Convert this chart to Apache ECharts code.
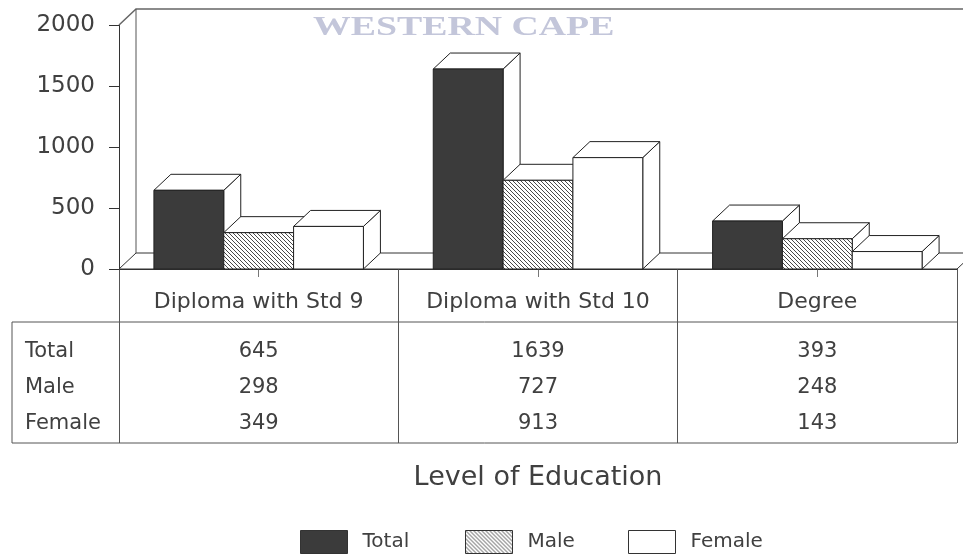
<!DOCTYPE html>
<html>
<head>
<meta charset="utf-8">
<script src="https://cdn.jsdelivr.net/npm/echarts@6/dist/echarts.min.js"></script>
<style>
  html, body { margin: 0; padding: 0; background: #fff; }
  #chart { width: 963px; height: 558px; }
</style>
</head>
<body>
<div id="chart"></div>
<script>
// ---- data ----
const categories = ['Diploma with Std 9', 'Diploma with Std 10', 'Degree'];
const seriesNames = ['Total', 'Male', 'Female'];
const totalValues = [645, 1639, 393];
const maleValues = [298, 727, 248];
const femaleValues = [349, 913, 143];
const yTicks = [0, 500, 1000, 1500, 2000];
const axisTitle = 'Level of Education';
const watermarkText = 'WESTERN CAPE';

const valueRows = [totalValues, maleValues, femaleValues];

// ---- layout & style ----
const W = 963, H = 558;
const GRID = { left: 119, right: 6, top: 25, bottom: 289 };
const AXIS_Y = H - GRID.bottom;          // baseline of the plot / top of the table
const RIGHT_X = W - GRID.right;
const DX = 17, DY = -16;                  // depth offset of the 3D faces
const BAR_FRACTION = 0.25;                // bar width as a share of one category
const FONT = '"DejaVu Sans", sans-serif';
const TEXT = '#404040';
const LINE = '#333';
const TABLE_HEADER_H = 53;                // header row (category names)
const TABLE_H = 174;                      // full table height below the axis
const ROW_OFFSETS = [83, 119, 155];       // row centres below the axis

function hatchPattern() {
  const c = document.createElement('canvas');
  c.width = 4; c.height = 4;
  const g = c.getContext('2d');
  g.fillStyle = '#fff';
  g.fillRect(0, 0, 4, 4);
  g.strokeStyle = '#4a4a4a';
  g.lineWidth = 1;
  g.beginPath();
  g.moveTo(-1, -1); g.lineTo(5, 5);
  g.moveTo(-1, 3); g.lineTo(1, 5);
  g.moveTo(3, -1); g.lineTo(5, 1);
  g.stroke();
  return c;
}
const fills = ['#3b3b3b', { image: hatchPattern(), repeat: 'repeat' }, '#ffffff'];

// 3D box bars: side face, top face, then front face
function barSeries(k) {
  return {
    type: 'custom',
    name: seriesNames[k],
    coordinateSystem: 'cartesian2d',
    xAxisIndex: 0,
    yAxisIndex: 0,
    z: 3,
    data: categories.map((c, i) => [i, valueRows[k][i]]),
    encode: { x: 0, y: 1 },
    renderItem: function (params, api) {
      const i = api.value(0), v = api.value(1);
      const base = api.coord([i, 0]);
      const top = api.coord([i, v]);
      const bw = api.size([1, 0])[0] * BAR_FRACTION;
      const x0 = base[0] + (k - 1.5) * bw, x1 = x0 + bw;
      const yt = top[1], yb = base[1];
      const stroke = { stroke: '#222', lineWidth: 1 };
      return {
        type: 'group',
        children: [
          { type: 'polygon', shape: { points: [[x1, yt], [x1 + DX, yt + DY], [x1 + DX, yb + DY], [x1, yb]] },
            style: Object.assign({ fill: '#fff' }, stroke) },
          { type: 'polygon', shape: { points: [[x0, yt], [x0 + DX, yt + DY], [x1 + DX, yt + DY], [x1, yt]] },
            style: Object.assign({ fill: '#fff' }, stroke) },
          { type: 'rect', shape: { x: x0, y: yt, width: bw, height: yb - yt },
            style: Object.assign({ fill: fills[k] }, stroke) }
        ]
      };
    }
  };
}

// floor slab and back/left walls of the plot box
const frameSeries = {
  type: 'custom',
  name: 'frame',
  coordinateSystem: 'cartesian2d',
  silent: true,
  z: 1,
  data: [[0, 0]],
  renderItem: function (params) {
    const cs = params.coordSys;
    const L = cs.x, R = cs.x + cs.width, T = cs.y, B = cs.y + cs.height;
    return {
      type: 'group',
      children: [
        { type: 'polygon', shape: { points: [[L, B], [L + DX, B + DY], [R + DX, B + DY], [R, B]] },
          style: { fill: '#fff', stroke: LINE, lineWidth: 1 } },
        { type: 'polyline', shape: { points: [[L, T], [L + DX, T + DY], [R + DX + 20, T + DY]] },
          style: { fill: null, stroke: '#666', lineWidth: 1.5 } },
        { type: 'line', shape: { x1: L + DX, y1: T + DY, x2: L + DX, y2: B + DY },
          style: { stroke: '#555', lineWidth: 1 } }
      ]
    };
  }
};

// table row axes: each one prints one series' values under the categories
function valueAxis(k) {
  return {
    type: 'category',
    data: categories,
    position: 'bottom',
    gridIndex: 0,
    axisLine: { show: false, onZero: false },
    axisTick: { show: k === 0, alignWithLabel: true, length: 8, lineStyle: { color: '#777' } },
    axisLabel: {
      margin: ROW_OFFSETS[k] - 11,
      interval: 0,
      fontFamily: FONT, fontSize: 21, color: TEXT,
      formatter: (v, idx) => String(valueRows[k][idx])
    }
  };
}

const chart = echarts.init(document.getElementById('chart'), null, { renderer: 'canvas' });

const option = {
  backgroundColor: '#fff',
  animation: false,
  grid: Object.assign({ containLabel: false, outerBoundsMode: 'none' }, GRID),
  xAxis: [
    {
      type: 'category',
      data: categories,
      position: 'bottom',
      name: axisTitle,
      nameLocation: 'middle',
      nameGap: 195,
      nameTextStyle: { fontFamily: FONT, fontSize: 27, color: TEXT },
      axisLine: { show: true, onZero: false, lineStyle: { color: LINE } },
      axisTick: { show: true, length: TABLE_H, lineStyle: { color: '#555' } },
      axisLabel: { margin: 22, interval: 0, fontFamily: FONT, fontSize: 22, color: TEXT }
    },
    valueAxis(0), valueAxis(1), valueAxis(2)
  ],
  yAxis: {
    type: 'value',
    min: yTicks[0],
    max: yTicks[yTicks.length - 1],
    interval: yTicks[1] - yTicks[0],
    axisLine: { show: true, lineStyle: { color: LINE } },
    axisTick: { show: true, length: 10, lineStyle: { color: LINE } },
    splitLine: { show: false },
    axisLabel: { margin: 24, fontFamily: FONT, fontSize: 23, color: TEXT, formatter: (v) => String(v) }
  },
  legend: seriesNames.map((name, k) => ({
    data: [{ name: name, icon: 'rect', itemStyle: { color: fills[k], borderColor: '#333', borderWidth: 1 } }],
    left: [300, 465, 628][k],
    top: 530,
    padding: 0,
    itemWidth: 47,
    itemHeight: 23,
    selectedMode: false,
    textStyle: { fontFamily: FONT, fontSize: 20, color: TEXT, padding: [0, 0, 0, 10] }
  })),
  graphic: [
    // watermark across the top of the plot
    { type: 'text', x: 313, y: 14, scaleX: 1.35, silent: true,
      style: { text: watermarkText, font: 'bold 28px "Liberation Serif", serif', fill: '#c3c6da',
               align: 'left', verticalAlign: 'top' } },
    // table frame
    { type: 'line', shape: { x1: 12, y1: AXIS_Y + TABLE_HEADER_H, x2: RIGHT_X, y2: AXIS_Y + TABLE_HEADER_H },
      style: { stroke: '#555', lineWidth: 1 } },
    { type: 'line', shape: { x1: 12, y1: AXIS_Y + TABLE_H, x2: RIGHT_X, y2: AXIS_Y + TABLE_H },
      style: { stroke: '#555', lineWidth: 1 } },
    { type: 'line', shape: { x1: 12, y1: AXIS_Y + TABLE_HEADER_H, x2: 12, y2: AXIS_Y + TABLE_H },
      style: { stroke: '#555', lineWidth: 1 } }
  ].concat(seriesNames.map((name, k) => ({
    type: 'text', x: 25, y: AXIS_Y + ROW_OFFSETS[k], silent: true,
    style: { text: name, fontFamily: FONT, fontSize: 21, fill: TEXT, align: 'left', verticalAlign: 'middle' }
  }))),
  series: [frameSeries, barSeries(0), barSeries(1), barSeries(2)]
};

chart.setOption(option);
</script>
</body>
</html>
